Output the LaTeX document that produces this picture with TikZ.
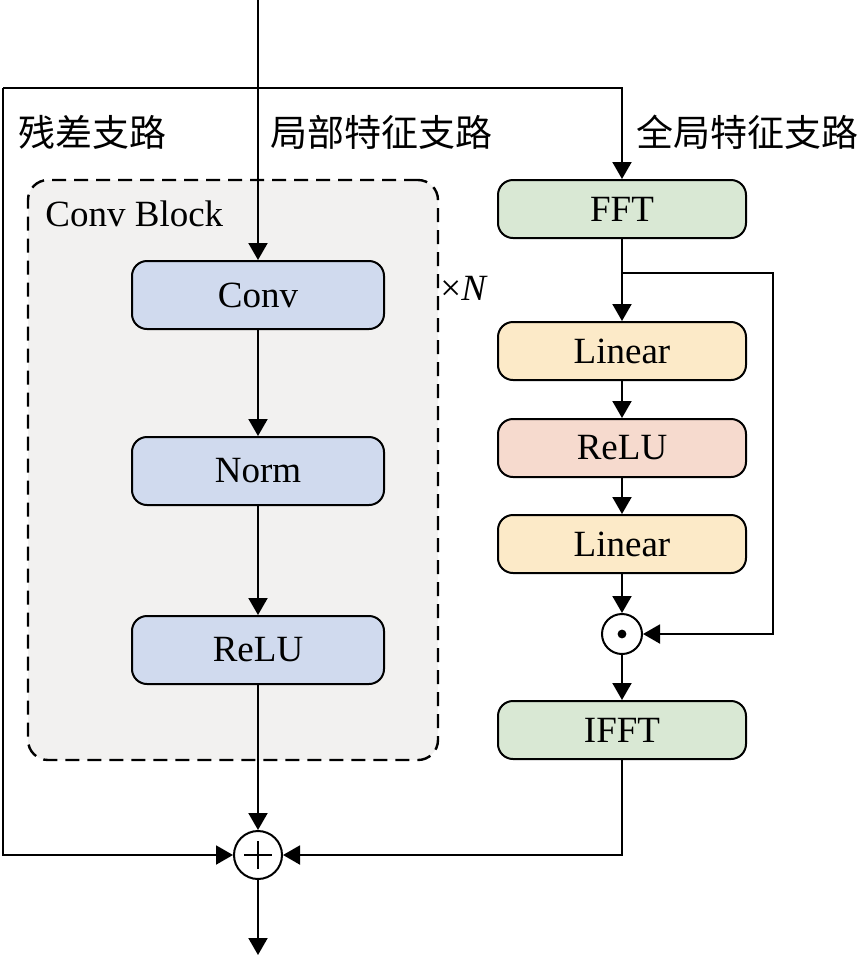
\documentclass[tikz,border=0pt]{standalone}
\usepackage{fontspec}
\setmainfont{Liberation Serif}
\newfontfamily\zhfont{Noto Sans CJK SC}
\usetikzlibrary{arrows.meta}
\definecolor{convblue}{RGB}{208,218,238}
\definecolor{fftgreen}{RGB}{217,232,212}
\definecolor{linorange}{RGB}{252,234,200}
\definecolor{relupink}{RGB}{246,218,206}
\definecolor{blockgray}{RGB}{242,241,240}
\tikzset{
  arr/.style={line width=1pt, -{Triangle[length=8.5pt,width=9.5pt]}},
  opbox/.style={draw, line width=1pt, rounded corners=7.5pt,
    minimum width=126pt, minimum height=34pt, inner sep=0pt},
  fbox/.style={opbox, minimum width=124pt, minimum height=29pt},
  opcirc/.style={draw, circle, line width=1pt, inner sep=0pt},
  lbl/.style={anchor=west, inner sep=0pt},
}
\begin{document}
\begin{tikzpicture}[x=0.5pt,y=-0.5pt,font=\fontsize{18.5}{22}\selectfont]
  \useasboundingbox (0,0) rectangle (860,960);

  % Bloco de convolução (fundo tracejado).
  \node[draw, fill=blockgray, line width=1.2pt, dash pattern=on 7pt off 4pt,
    rounded corners=10pt, minimum width=205pt, minimum height=290pt]
    (block) at (233,470) {};
  \node[lbl] (blocklabel) at (45,214) {Conv Block};
  \node[lbl] (times) at (440,288) {×\textit{N}};

  % Rótulos dos ramos.
  \node[lbl] (reslabel) at (18,132) {\zhfont 残差支路};
  \node[lbl] (loclabel) at (270,132) {\zhfont 局部特征支路};
  \node[lbl] (glolabel) at (636,132) {\zhfont 全局特征支路};

  % Ramo local.
  \node[opbox, fill=convblue] (conv) at (258,295) {Conv};
  \node[opbox, fill=convblue] (norm) at (258,471) {Norm};
  \node[opbox, fill=convblue] (relu) at (258,650) {ReLU};

  % Ramo global.
  \node[fbox, fill=fftgreen] (fft) at (622,209) {FFT};
  \node[fbox, fill=linorange] (lin1) at (622,351) {Linear};
  \node[fbox, fill=relupink] (relu2) at (622,448) {ReLU};
  \node[fbox, fill=linorange] (lin2) at (622,544) {Linear};
  \node[opcirc, minimum size=20pt] (dot) at (622,634) {};
  \fill (dot.center) circle (2.2pt);
  \node[fbox, fill=fftgreen] (ifft) at (622,730) {IFFT};

  % Soma final.
  \node[opcirc, minimum size=24pt] (plus) at (258,855) {};
  \draw[line width=1pt] ([xshift=-7pt]plus.center) -- ([xshift=7pt]plus.center);
  \draw[line width=1pt] ([yshift=-7pt]plus.center) -- ([yshift=7pt]plus.center);

  % Pontos auxiliares.
  \coordinate (in) at (258,0);
  \coordinate (lcorner) at (3,88);
  \coordinate (rcorner) at (622,88);
  \coordinate (fork) at (622,273);
  \coordinate (skip) at (773,273);
  \coordinate (out) at (258,955);

  % Ligações.
  \draw[arr] (in) -- (conv.north);
  \draw[arr] (conv) -- (norm);
  \draw[arr] (norm) -- (relu);
  \draw[arr] (relu) -- (plus);
  \draw[arr] (lcorner) -- (rcorner) -- (fft.north);
  \draw[arr] (lcorner) |- (plus.west);
  \draw[arr] (fft) -- (lin1);
  \draw[arr] (lin1) -- (relu2);
  \draw[arr] (relu2) -- (lin2);
  \draw[arr] (lin2) -- (dot);
  \draw[arr] (fork) -- (skip) |- (dot.east);
  \draw[arr] (dot) -- (ifft);
  \draw[arr] (ifft.south) |- (plus.east);
  \draw[arr] (plus) -- (out);
\end{tikzpicture}
\end{document}
